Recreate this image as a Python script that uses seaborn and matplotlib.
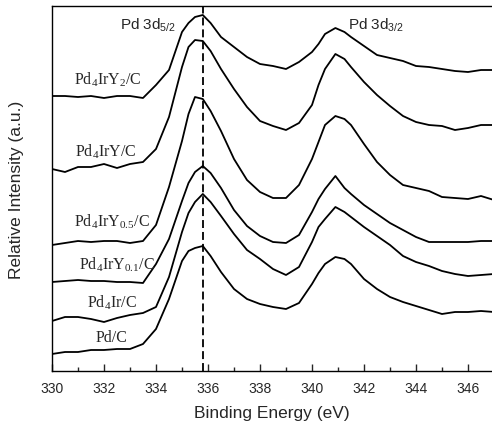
import pandas as pd
import seaborn as sns
import matplotlib.pyplot as plt
from matplotlib.ticker import MultipleLocator

# Binding energy grid (eV), denser around the two Pd 3d peaks
energy = [330, 330.5, 331, 331.5, 332, 332.5, 333, 333.5, 334, 334.5, 335, 335.25,
          335.5, 335.8, 336.1, 336.5, 337, 337.5, 338, 338.5, 339, 339.5, 340, 340.25,
          340.5, 340.9, 341.25, 341.5, 342, 342.5, 343, 343.5, 344, 344.5, 345, 345.5,
          346, 346.5, 347]

# Stacked spectra (offset intensities, a.u.), top to bottom
pd4iry2 = [275, 275, 274, 275, 273, 275, 275, 273, 286, 301, 339, 348, 354, 356, 348, 334,
           324, 314, 307, 305, 302, 309, 319, 327, 337, 343, 339, 334, 325, 316, 313, 310,
           305, 304, 302, 300, 299, 301, 301]
pd4iry = [202, 199, 204, 204, 207, 203, 207, 209, 222, 254, 304, 324, 331, 330, 320, 302,
          282, 264, 250, 245, 241, 248, 266, 286, 302, 317, 312, 304, 289, 276, 265, 255,
          249, 246, 245, 241, 243, 246, 246]
pd4iry05 = [126, 128, 130, 129, 130, 130, 128, 130, 146, 184, 230, 257, 274, 272, 260, 240,
            212, 191, 179, 173, 173, 186, 212, 229, 246, 255, 252, 246, 227, 209, 196, 186,
            183, 180, 174, 173, 172, 175, 171]
pd4iry01 = [89, 90, 91, 90, 90, 89, 89, 88, 107, 132, 170, 188, 199, 205, 198, 183,
            161, 145, 135, 129, 128, 136, 159, 172, 182, 195, 183, 177, 166, 157, 148, 141,
            134, 129, 129, 129, 129, 130, 130]
pd4ir = [50, 54, 54, 52, 49, 53, 56, 58, 64, 94, 139, 158, 169, 177, 169, 155,
         137, 121, 112, 102, 96, 104, 129, 144, 152, 164, 159, 154, 144, 135, 126, 115,
         109, 105, 100, 97, 95, 96, 97]
pdc = [17, 19, 19, 21, 21, 22, 22, 27, 42, 72, 110, 120, 123, 125, 115, 99,
       82, 72, 67, 64, 62, 68, 87, 98, 107, 114, 112, 107, 92, 82, 74, 69,
       65, 61, 57, 59, 59, 60, 59]

samples = ['Pd4IrY2/C', 'Pd4IrY/C', 'Pd4IrY0.5/C', 'Pd4IrY0.1/C', 'Pd4Ir/C', 'Pd/C']
sample_labels = [r'Pd$_4$IrY$_2$/C', r'Pd$_4$IrY/C', r'Pd$_4$IrY$_{0.5}$/C',
                 r'Pd$_4$IrY$_{0.1}$/C', r'Pd$_4$Ir/C', 'Pd/C']
label_x = [332.15, 332.05, 332.3, 332.5, 332.3, 332.3]
label_y = [292, 220, 150, 107, 69, 34]

peak_energy = 335.8

frames = []
for name, vals in zip(samples, [pd4iry2, pd4iry, pd4iry05, pd4iry01, pd4ir, pdc]):
    frames.append(pd.DataFrame({'energy': energy, 'intensity': vals, 'sample': name}))
df = pd.concat(frames, ignore_index=True)

sns.set_style('ticks')
plt.rcParams['font.family'] = ['Liberation Sans', 'DejaVu Sans']
plt.rcParams['mathtext.default'] = 'regular'

fig = plt.figure(figsize=(4.92, 4.27), dpi=100)
ax = fig.add_axes([52 / 492, 55 / 427, 442 / 492, 365 / 427])

sns.lineplot(data=df, x='energy', y='intensity', units='sample', estimator=None,
             color='black', linewidth=1.3, ax=ax, sort=False)

ax.axvline(peak_energy, color='black', linewidth=1.3, linestyle=(0, (4.4, 2.2)))

ax.set_xlim(330, 347)
ax.set_ylim(0, 365)
ax.xaxis.set_major_locator(MultipleLocator(2))
ax.xaxis.set_minor_locator(MultipleLocator(1))
ax.tick_params(axis='x', which='major', direction='in', length=5, width=1, pad=7,
               labelsize=10, top=False)
ax.tick_params(axis='x', which='minor', direction='in', length=3, width=1, top=False)
ax.set_yticks([])
ax.spines['right'].set_visible(False)
for s in ['left', 'bottom', 'top']:
    ax.spines[s].set_linewidth(1.0)
    ax.spines[s].set_color('black')

ax.set_xlabel('Binding Energy (eV)', fontsize=12.5)
ax.set_ylabel('Relative Intensity (a.u.)', fontsize=12.5)
ax.xaxis.set_label_coords(0.497, -0.093)
ax.yaxis.set_label_coords(-0.063, 0.5)

ax.text(333.7, 347, r'Pd 3d$_{5/2}$', ha='center', va='center', fontsize=11)
ax.text(342.45, 347, r'Pd 3d$_{3/2}$', ha='center', va='center', fontsize=11)
for lab, x, y in zip(sample_labels, label_x, label_y):
    ax.text(x, y, lab, ha='center', va='center', fontsize=11.5,
            family=['Liberation Serif', 'DejaVu Serif'])

fig.savefig('out.png', dpi=100)
